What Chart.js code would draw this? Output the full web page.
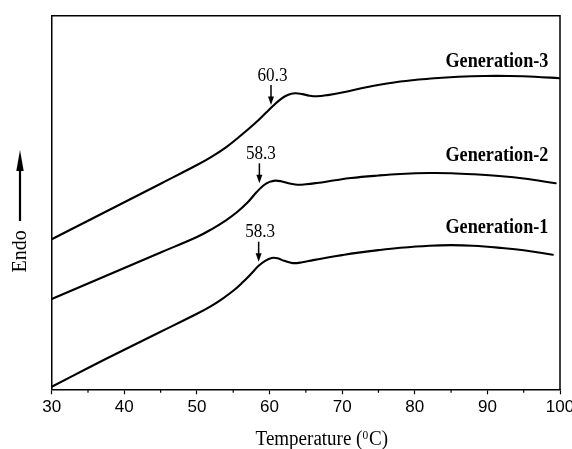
<!DOCTYPE html>
<html>
<head>
<meta charset="utf-8">
<script src="https://cdn.jsdelivr.net/npm/chart.js@4.4.1/dist/chart.umd.min.js"></script>
<style>
  html, body { margin: 0; padding: 0; background: #fff; }
  #wrap { width: 572px; height: 449px; position: relative; }
</style>
</head>
<body>
<div id="wrap"><canvas id="c" width="572" height="449"></canvas></div>
<script>
// ---- Data (temperature in °C, heat flow in arbitrary units, endo up) ----
const seriesNames = ['Generation-1', 'Generation-2', 'Generation-3'];

const gen1T = [30, 35, 40, 45, 50, 52, 53.5, 55, 56.3, 57.4, 58.5, 59.4, 60.3, 61.1, 62, 63.2, 64.5, 66, 68, 70, 72, 75, 78, 82, 85, 88, 92, 95, 99];
const gen1Y = [0.026, 0.213, 0.396, 0.575, 0.755, 0.835, 0.905, 0.985, 1.07, 1.15, 1.235, 1.285, 1.313, 1.31, 1.285, 1.262, 1.27, 1.292, 1.318, 1.342, 1.364, 1.392, 1.415, 1.436, 1.442, 1.436, 1.413, 1.39, 1.345];

const gen2T = [30, 35, 40, 45, 50, 52, 54, 55.5, 57, 58.2, 59.2, 60, 60.8, 61.6, 62.6, 63.8, 65, 66.5, 69, 71.2, 75, 78, 82, 85, 88, 92, 95, 99.4];
const gen2Y = [0.903, 1.058, 1.213, 1.368, 1.523, 1.6, 1.69, 1.77, 1.87, 1.97, 2.04, 2.074, 2.087, 2.08, 2.06, 2.046, 2.05, 2.063, 2.09, 2.113, 2.138, 2.153, 2.163, 2.161, 2.151, 2.131, 2.108, 2.06];

const gen3T = [30, 35, 40, 45, 50, 52, 54, 56, 58, 59.5, 60.5, 61.5, 62.5, 63.5, 64.5, 65.5, 66.5, 68, 70, 73.5, 78, 82.7, 86, 89.6, 93, 96.5, 99.9];
const gen3Y = [1.5, 1.685, 1.87, 2.056, 2.243, 2.325, 2.42, 2.535, 2.66, 2.765, 2.835, 2.9, 2.943, 2.96, 2.952, 2.936, 2.93, 2.942, 2.968, 3.023, 3.078, 3.11, 3.125, 3.133, 3.133, 3.126, 3.11];

// Glass transition annotations (label text, arrow temperature, arrow tip level)
const tgLabels = ['58.3', '58.3', '60.3'];
const tgArrowT = [58.5, 58.6, 60.2];
const tgTipY   = [1.276, 2.06, 2.843];

// Series label anchors (right edge temperature, baseline level)
const nameAnchorT = [98.4, 98.4, 98.4];
const nameAnchorY = [1.566, 2.286, 3.226];

const xTicks = [30, 40, 50, 60, 70, 80, 90, 100];

function pts(T, Y) { return T.map((t, i) => ({ x: t, y: Y[i] })); }

const serif = '"Liberation Serif", "Times New Roman", serif';
const sans = '"Liberation Sans", Arial, sans-serif';

function condText(ctx, text, x, y, sx, align) {
  ctx.save();
  ctx.translate(x, y);
  ctx.scale(sx, 1);
  ctx.textAlign = align;
  ctx.fillText(text, 0, 0);
  ctx.restore();
}

const decor = {
  id: 'decor',
  afterDraw(chart) {
    const ctx = chart.ctx;
    const a = chart.chartArea;
    const xs = chart.scales.x, ys = chart.scales.y;
    ctx.save();
    ctx.strokeStyle = '#000';
    ctx.fillStyle = '#000';
    // frame top & right
    ctx.lineWidth = 1.5;
    ctx.beginPath();
    ctx.moveTo(a.left, a.top);
    ctx.lineTo(a.right, a.top);
    ctx.lineTo(a.right, a.bottom);
    ctx.stroke();
    // minor ticks (every 5)
    ctx.lineWidth = 1.2;
    for (let t = 35; t < 100; t += 10) {
      const px = xs.getPixelForValue(t);
      ctx.beginPath();
      ctx.moveTo(px, a.bottom);
      ctx.lineTo(px, a.bottom + 3.5);
      ctx.stroke();
    }
    // Tg arrows & labels
    for (let i = 0; i < tgLabels.length; i++) {
      const px = xs.getPixelForValue(tgArrowT[i]);
      const tip = ys.getPixelForValue(tgTipY[i]);
      ctx.lineWidth = 1.5;
      ctx.beginPath();
      ctx.moveTo(px, tip - 20);
      ctx.lineTo(px, tip - 5);
      ctx.stroke();
      ctx.beginPath();
      ctx.moveTo(px, tip);
      ctx.lineTo(px - 3, tip - 8.5);
      ctx.lineTo(px + 3, tip - 8.5);
      ctx.closePath();
      ctx.fill();
      ctx.font = '19px ' + serif;
      ctx.textBaseline = 'alphabetic';
      condText(ctx, tgLabels[i], px + 1.5, tip - 24.5, 0.9, 'center');
    }
    // series names
    ctx.font = 'bold 21px ' + serif;
    ctx.textBaseline = 'alphabetic';
    for (let i = 0; i < seriesNames.length; i++) {
      condText(ctx, seriesNames[i], xs.getPixelForValue(nameAnchorT[i]), ys.getPixelForValue(nameAnchorY[i]), 0.865, 'right');
    }
    // y-axis title "Endo" with arrow
    ctx.save();
    ctx.translate(26, 251.3);
    ctx.rotate(-Math.PI / 2);
    ctx.font = '20px ' + serif;
    ctx.textAlign = 'center';
    ctx.textBaseline = 'alphabetic';
    ctx.fillText('Endo', 0, 0);
    ctx.restore();
    ctx.lineWidth = 2.2;
    ctx.beginPath();
    ctx.moveTo(20, 221);
    ctx.lineTo(20, 166);
    ctx.stroke();
    ctx.beginPath();
    ctx.moveTo(20, 150);
    ctx.lineTo(16.3, 171);
    ctx.lineTo(23.7, 171);
    ctx.closePath();
    ctx.fill();
    // x-axis title with superscript
    const sx = 0.95;
    ctx.font = '20px ' + serif;
    const p1 = 'Temperature (', p3 = 'C)';
    const w1 = ctx.measureText(p1).width;
    const w3 = ctx.measureText(p3).width;
    ctx.font = '12px ' + serif;
    const w2 = ctx.measureText('0').width;
    const total = (w1 + w2 + w3 + 1) * sx;
    const cx = (a.left + a.right) / 2 + 16;
    let x0 = cx - total / 2;
    const base = 445;
    ctx.textBaseline = 'alphabetic';
    ctx.font = '20px ' + serif;
    condText(ctx, p1, x0, base, sx, 'left');
    x0 += w1 * sx;
    ctx.font = '12px ' + serif;
    condText(ctx, '0', x0, base - 6, sx, 'left');
    x0 += (w2 + 1) * sx;
    ctx.font = '20px ' + serif;
    condText(ctx, p3, x0, base, sx, 'left');
    ctx.restore();
  }
};

const lineStyle = { borderColor: '#000', borderWidth: 2.1, pointRadius: 0, fill: false, tension: 0.4, borderCapStyle: 'round', borderJoinStyle: 'round' };

new Chart(document.getElementById('c'), {
  type: 'line',
  data: {
    datasets: [
      Object.assign({ label: seriesNames[0], data: pts(gen1T, gen1Y) }, lineStyle),
      Object.assign({ label: seriesNames[1], data: pts(gen2T, gen2Y) }, lineStyle),
      Object.assign({ label: seriesNames[2], data: pts(gen3T, gen3Y) }, lineStyle)
    ]
  },
  options: {
    responsive: false,
    animation: false,
    devicePixelRatio: 1,
    layout: { padding: { top: 15.7, right: 12, bottom: 0, left: 0 } },
    plugins: { legend: { display: false }, tooltip: { enabled: false }, title: { display: false } },
    scales: {
      x: {
        type: 'linear',
        min: 30, max: 100,
        afterBuildTicks: s => { s.ticks = xTicks.map(v => ({ value: v })); },
        ticks: {
          color: '#000',
          font: { family: sans, size: 17 },
          padding: 3,
          maxRotation: 0,
          autoSkip: false,
          callback: v => String(v)
        },
        grid: { drawOnChartArea: false, drawTicks: true, tickLength: 5, tickWidth: 1.2, tickColor: '#000' },
        border: { display: true, color: '#000', width: 1.5 },
        afterFit: s => { s.height = 449 - 389.3; s.paddingLeft = 0; s.paddingRight = 0; }
      },
      y: {
        type: 'linear',
        min: 0, max: 3.736,
        ticks: { display: false },
        grid: { display: false, drawTicks: false },
        border: { display: true, color: '#000', width: 1.5 },
        afterFit: s => { s.width = 51.7; s.paddingTop = 0; s.paddingBottom = 0; }
      }
    }
  },
  plugins: [decor]
});
</script>
</body>
</html>
